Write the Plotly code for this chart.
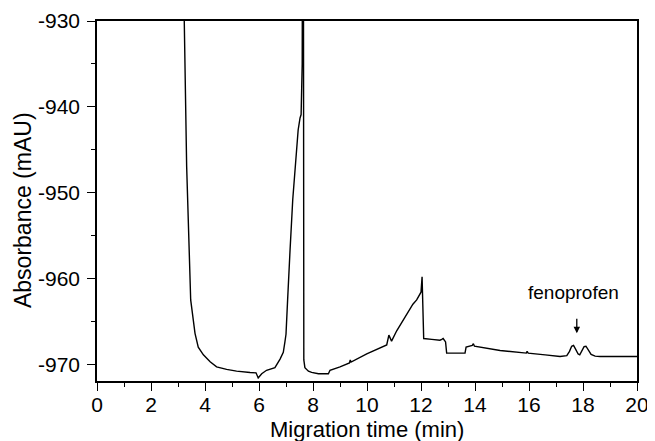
import plotly.graph_objects as go

# Migration time (min) and absorbance (mAU)
time_min = [3.18, 3.23, 3.32, 3.47, 3.57, 3.63, 3.75, 3.94, 4.19, 4.43, 4.80, 5.17, 5.67,
            5.89, 5.97, 6.10, 6.28, 6.59, 6.78, 6.90, 6.96, 7.00, 7.06, 7.10, 7.15, 7.25,
            7.35, 7.45, 7.52, 7.56, 7.60, 7.61, 7.645, 7.66, 7.70, 7.83, 7.95, 8.20, 8.57,
            8.63, 9.00, 9.35, 9.38, 9.41, 9.99, 10.54, 10.73, 10.81, 10.91, 11.10, 11.34,
            11.53, 11.70, 11.84, 12.00, 12.04, 12.07, 12.10, 12.40, 12.70, 12.77, 12.82,
            12.91, 12.95, 13.30, 13.63, 13.67, 13.90, 13.94, 13.98, 14.93, 15.90, 15.93,
            15.97, 16.60, 17.15, 17.40, 17.50, 17.58, 17.65, 17.72, 17.82, 17.88, 17.96,
            18.04, 18.11, 18.20, 18.30, 18.45, 18.63, 19.30, 20.00]
absorbance = [-920.0, -930.0, -946.9, -962.5, -964.85, -966.4, -968.0, -968.9, -969.7,
              -970.3, -970.6, -970.8, -970.96, -971.0, -971.6, -971.1, -970.7, -970.4,
              -969.4, -968.6, -967.4, -966.5, -962.5, -959.5, -956.7, -950.8, -946.2,
              -942.7, -941.3, -940.9, -935.0, -920.0, -920.0, -969.5, -970.4, -970.8,
              -970.95, -971.1, -971.1, -970.7, -970.3, -969.85, -969.5, -969.75, -968.8,
              -968.0, -967.75, -966.6, -967.3, -966.1, -964.85, -963.8, -963.0, -962.5,
              -961.6, -959.8, -963.0, -967.0, -967.1, -967.2, -967.1, -967.0, -967.4,
              -968.7, -968.7, -968.7, -968.0, -967.8, -967.6, -967.9, -968.4, -968.7,
              -968.5, -968.7, -968.9, -969.1, -969.0, -968.5, -967.9, -967.8, -968.2,
              -968.8, -968.9, -968.5, -967.95, -967.9, -968.4, -968.85, -969.05, -969.1,
              -969.1, -969.1]

x_ticks = [0, 2, 4, 6, 8, 10, 12, 14, 16, 18, 20]
y_ticks = [-970, -960, -950, -940, -930]
x_title = "Migration time (min)"
y_title = "Absorbance (mAU)"
peak_label = "fenoprofen"
peak_time = 17.77
peak_tip = -966.4
label_y = -961.6

font = "Liberation Sans, Arial, sans-serif"

fig = go.Figure()
fig.add_trace(go.Scatter(x=time_min, y=absorbance, mode="lines",
                         line=dict(color="black", width=1.4), showlegend=False,
                         hoverinfo="skip"))

fig.add_annotation(x=peak_time, y=peak_tip, text="", showarrow=True,
                   arrowhead=2, arrowsize=1, arrowwidth=1.3, arrowcolor="black",
                   ax=0, ay=-16)
fig.add_annotation(x=peak_time - 0.12, y=label_y, text=peak_label, showarrow=False,
                   font=dict(family=font, size=19, color="black"))

# axis titles placed as paper annotations
fig.add_annotation(xref="paper", yref="paper", x=0.5, y=-0.174, yanchor="bottom",
                   xanchor="center", text=x_title, showarrow=False,
                   font=dict(family=font, size=22, color="black"))
fig.add_annotation(xref="paper", yref="paper", x=-0.137, y=0.475, textangle=-90,
                   xanchor="center", yanchor="middle", text=y_title, showarrow=False,
                   font=dict(family=font, size=23, color="black"))

axis_common = dict(showline=True, linecolor="black", linewidth=1.5, mirror=True,
                   ticks="outside", ticklen=8, tickwidth=1.3, tickcolor="black",
                   showgrid=False, zeroline=False, automargin=False,
                   tickfont=dict(family=font, size=21, color="black"))

fig.update_xaxes(range=[0, 20], tickvals=x_ticks, ticktext=[str(v) for v in x_ticks],
                 minor=dict(dtick=1, ticks="outside", ticklen=4, tickwidth=1.2,
                            tickcolor="black", showgrid=False),
                 ticklabelstandoff=-4,
                 **axis_common)
fig.update_yaxes(range=[-971.95, -930], tickvals=y_ticks, ticktext=[str(v) for v in y_ticks],
                 minor=dict(dtick=5, tick0=-930, ticks="outside", ticklen=4, tickwidth=1.2,
                            tickcolor="black", showgrid=False),
                 ticklabelstandoff=3,
                 **axis_common)

# the page body adds an 8 px offset, so the figure is 8 px smaller each way
fig.update_layout(width=647, height=433, margin=dict(l=89, r=18, t=13, b=60),
                  paper_bgcolor="white", plot_bgcolor="white")

fig.write_html("out.html")
